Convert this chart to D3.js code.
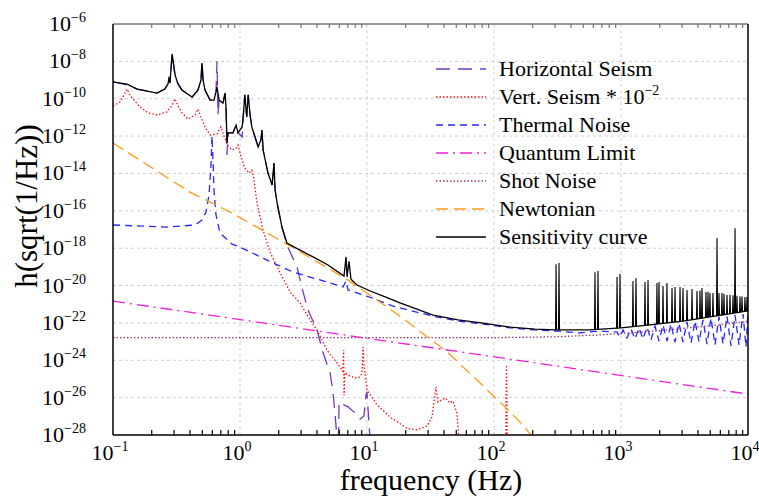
<!DOCTYPE html>
<html>
<head>
<meta charset="utf-8">
<script src="https://cdn.jsdelivr.net/npm/d3@7"></script>
<style>
  body { margin: 0; background: #fff; }
  svg text { font-family: "Liberation Serif", "Times New Roman", Times, serif; }
</style>
</head>
<body>
<script>

// ---- data: [frequency (Hz), h] ----
var hSeism = [[0.1,7.9e-10],[0.129,5.4e-10],[0.155,3.3e-10],[0.222,2.0e-10],[0.256,3.3e-10],[0.271,6.2e-10],
  [0.276,1.6e-9],[0.281,6.9e-10],[0.292,2.5e-8],[0.308,1.86e-9],[0.325,6.2e-10],[0.349,2.95e-10],[0.419,1.23e-10],
  [0.467,2.95e-10],[0.493,1e-9],[0.502,1e-8],[0.512,1e-9],[0.530,2.95e-10],[0.581,8.5e-11],[0.624,8.5e-11],
  [0.647,2.3e-10],[0.659,1e-8],[0.671,1.35e-11],[0.684,8.5e-11],[0.735,5.9e-11],[0.762,2.0e-10],[0.776,3.6e-11],
  [0.790,9.8e-14],[0.805,1.5e-12],[0.881,1.5e-12],[0.931,3.9e-12],[0.965,1.5e-12],[1.04,9e-13],[1.07,2.5e-11],
  [1.09,1.6e-10],[1.13,1.05e-11],[1.16,1.6e-10],[1.20,1.35e-11],[1.24,3.1e-12],[1.39,2.6e-13],[1.46,6.2e-13],
  [1.49,2.1e-12],[1.52,1.8e-13],[1.66,1.05e-14],[1.79,2.4e-15],[1.85,3.6e-14],[1.89,1.3e-15],[1.96,2.6e-16],
  [2.14,1.35e-17],[2.34,1.48e-18],[2.81,9.8e-20],[3.08,7.4e-21],[3.43,4.9e-22],[4.04,4.2e-23],[4.51,2.5e-24],
  [5.12,2.1e-25],[5.40,2.0e-26],[5.70,3.4e-28],[5.90,1e-30],[6.03,5.9e-27],[6.36,4.6e-27],[7.09,3.2e-27],
  [8.05,1.5e-27],[8.81,7.2e-28],[9.47,1.05e-27],[9.82,1.4e-26],[10.0,2.0e-26],[10.2,2.2e-27],[10.57,5.4e-29],[11.0,1e-30]];

var vSeism = [[0.1,4.1e-11],[0.1136,6.6e-11],[0.122,1.58e-10],[0.129,3.3e-10],[0.136,1.58e-10],[0.144,9.8e-11],
  [0.163,3.6e-11],[0.189,1.74e-11],[0.222,1.35e-11],[0.266,1.95e-11],[0.292,4.6e-11],[0.308,9.8e-11],[0.325,4.1e-11],
  [0.349,1.74e-11],[0.390,8.2e-12],[0.443,1.35e-11],[0.467,2.8e-11],[0.493,1.05e-11],[0.530,3.1e-12],[0.581,1.15e-12],
  [0.659,1.3e-12],[0.708,3.1e-12],[0.748,1e-12],[0.805,3.0e-13],[0.865,1.8e-13],[0.931,2.3e-13],[0.965,3.3e-13],
  [1.0,1.23e-13],[1.09,1.95e-14],[1.18,1.05e-14],[1.24,1.5e-14],[1.29,4.5e-15],[1.36,2.6e-16],[1.52,9.3e-18],
  [1.72,6.3e-19],[2.07,4.7e-20],[2.48,4.5e-21],[2.97,1.17e-21],[3.56,1.45e-22],[4.04,4.2e-23],[4.84,3.5e-24],
  [5.81,7.1e-25],[6.36,3.0e-25],[6.45,2.6e-25],[6.55,3.5e-24],[6.6,1.3e-26],[6.7,2.2e-25],[7.09,1.62e-25],
  [8.05,1.12e-25],[8.81,1.26e-25],[9.14,2.3e-25],[9.31,5.1e-24],[9.47,5.6e-25],[10.0,2.6e-26],[12.0,4.1e-27],
  [15.2,9.2e-28],[20.6,2.3e-28],[24.8,1.86e-28],[29.7,3.0e-28],[32.5,9.2e-28],[34.9,3.7e-26],[36.2,5.9e-27],
  [41.1,9.6e-27],[45.0,5.1e-27],[47.5,6.6e-27],[51.1,1.5e-27],[53.0,5.4e-29],[55.0,1e-30],
  [123,1e-30],[125.5,5.6e-25],[128,1e-30]];

var thermal = [[0.1,1.74e-17],[0.266,1.35e-17],[0.443,1.74e-17],[0.502,3.2e-17],[0.540,8.7e-17],[0.570,7.1e-16],
  [0.591,2.8e-14],[0.602,1e-12],[0.613,5.2e-14],[0.624,1.3e-15],[0.647,6.0e-17],[0.696,6.5e-18],[0.865,1.66e-18],
  [1.0,1.15e-18],[1.63,2.3e-19],[2.61,5.3e-20],[4.84,1.54e-20],[6.47,8.3e-21],[6.84,1.74e-20],[7.09,5.8e-21],
  [11.1,2.1e-21],[16.0,7.9e-22],[33.1,2.3e-22],[52.1,1.26e-22],[81.9,8.7e-23],[134,5.4e-23],[210,4.2e-23],
  [302,3.7e-23],[475,2.9e-23],[684,3.7e-23],[931,3.2e-23],[982,1.8e-23],[1038,4.2e-23],[1114,1.55e-23],
  [1199,4.7e-23],[1288,1.38e-23],[1387,5.4e-23],[1490,1.38e-23],[1603,6.0e-23],[1722,1.2e-23],[1853,6.8e-23],
  [1991,1.07e-23],[2141,7.8e-23],[2301,1.07e-23],[2475,8.7e-23],[2661,9.5e-24],[2862,9.8e-23],[3076,9.5e-24],
  [3308,1.12e-22],[3557,8.3e-24],[3825,1.26e-22],[4113,9.5e-24],[4423,1.45e-22],[4755,7.4e-24],[5113,1.82e-22],
  [5498,6.6e-24],[5912,2.1e-22],[6357,7.4e-24],[6835,2.3e-22],[7350,5.8e-24],[7903,2.6e-22],[8497,6.6e-24],
  [9137,3.0e-22],[9645,5.1e-24],[10000,3.4e-22]];

var quantum = [[0.1,1.48e-21],[313,4.9e-25],[10000,1.55e-26]];

var shot = [[0.1,1.62e-23],[100,1.62e-23],[300,1.8e-23],[700,2.3e-23],[1000,2.7e-23],[2000,3.8e-23],
  [5000,7.0e-23],[10000,1.2e-22]];

var newtonian = [[0.1,4.3e-13],[0.404,1.0e-15],[0.834,8.7e-17],[2.34,1.66e-18],[6.71,2.5e-20],[14.4,7.1e-22],
  [19.9,1.45e-22],[42.7,2.8e-24],[73.5,8.7e-26],[118,4.0e-27],[169,3.4e-28],[210,5.4e-29]];

var sensitivity = [[0.1,7.9e-10],[0.129,6.0e-10],[0.155,3.3e-10],[0.222,2.0e-10],[0.256,3.3e-10],[0.271,6.2e-10],
  [0.276,1.3e-9],[0.281,6.9e-10],[0.292,2.5e-8],[0.308,1.86e-9],[0.325,6.2e-10],[0.349,2.95e-10],[0.419,1.23e-10],
  [0.467,2.95e-10],[0.493,1e-9],[0.502,8.1e-9],[0.512,1e-9],[0.530,2.95e-10],[0.581,8.5e-11],[0.624,8.5e-11],
  [0.647,2.3e-10],[0.659,4.3e-10],[0.684,8.5e-11],[0.735,5.9e-11],[0.762,2.0e-10],[0.776,3.6e-11],[0.790,4.3e-13],
  [0.805,1.5e-12],[0.881,1.5e-12],[0.931,3.9e-12],[0.965,1.5e-12],[1.04,3.1e-12],[1.07,2.5e-11],[1.09,1.6e-10],
  [1.13,1.05e-11],[1.16,1.6e-10],[1.20,1.35e-11],[1.24,3.1e-12],[1.39,2.6e-13],[1.46,6.2e-13],[1.49,2.1e-12],
  [1.52,1.8e-13],[1.66,1.05e-14],[1.79,2.4e-15],[1.85,3.6e-14],[1.89,1.3e-15],[1.96,2.6e-16],[2.14,1.35e-17],
  [2.34,1.9e-18],[2.97,7.9e-19],[3.76,3.4e-19],[4.93,1.26e-19],[6.59,3.2e-20],[6.84,3.4e-19],[6.97,2.9e-20],
  [7.21,2.0e-19],[7.48,2.2e-20],[8.34,1.07e-20],[10.6,5.1e-21],[13.9,2.45e-21],[18.2,1.17e-21],[33.1,2.6e-22],
  [52.1,1.44e-22],[81.9,9.8e-23],[134,6.0e-23],[210,4.7e-23],[302,4.2e-23],[570,4.2e-23],[1000,5.4e-23],
  [1690,7.8e-23],[3076,1.26e-22],[5500,2.3e-22],[10000,4.4e-22]];

// violin mode spikes on the sensitivity curve: [frequency, top of spike]
var violinSpikes = [[308,1.4e-19],[325,1.6e-19],[624,5.2e-20],[659,6.0e-20],[931,2.9e-20],[982,4.2e-20],
  [1242,1.74e-20],[1312,2.5e-20],[1545,1.55e-20],[1632,2.0e-20],[1919,1.38e-20],[1991,1.55e-20],
  [2142,9.5e-21],[2300,1.38e-20],[2522,7.4e-21],[2663,8.3e-21],[2917,8.3e-21],[3076,7.4e-21],
  [3311,5.8e-21],[3625,6.5e-21],[3965,5.1e-21],[4188,5.5e-21],[4342,7.4e-21],[4667,4.5e-21],[4842,4.6e-21],
  [5018,4.0e-21],[5300,4.0e-21],[5702,3.5e-18],[5912,4.0e-21],[6237,4.0e-21],[6471,3.6e-21],[6835,3.2e-21],
  [7215,3.2e-21],[7621,3.0e-21],[7907,1.15e-17],[8187,2.8e-21],[8650,2.7e-21],[8974,2.6e-21],[9460,2.45e-21],
  [9820,2.4e-21]];

var legendNames = ["Horizontal Seism", "Vert. Seism * 10", "Thermal Noise", "Quantum Limit",
  "Shot Noise", "Newtonian", "Sensitivity curve"];
var xTickValues = [0.1, 1, 10, 100, 1000, 10000];
var xTickExps = ["\u22121", "0", "1", "2", "3", "4"];
var yTickValues = [1e-28, 1e-26, 1e-24, 1e-22, 1e-20, 1e-18, 1e-16, 1e-14, 1e-12, 1e-10, 1e-8, 1e-6];
var yTickExps = ["\u221228", "\u221226", "\u221224", "\u221222", "\u221220", "\u221218", "\u221216",
  "\u221214", "\u221212", "\u221210", "\u22128", "\u22126"];

// ---- chart ----
var w = 759, h = 499,
    margin = {top: 24, right: 11, bottom: 64, left: 113};

var svg = d3.select("body").append("svg")
  .attr("width", w)
  .attr("height", h)
  .attr("font-family", "'Liberation Serif', 'Times New Roman', Times, serif");

var x_scale = d3.scaleLog()
  .domain([0.1, 1e4])
  .range([margin.left, w - margin.right]);

var y_scale = d3.scaleLog()
  .domain([1e-28, 1e-6])
  .range([h - margin.bottom, margin.top]);

var x0 = margin.left, x1 = w - margin.right, y0 = h - margin.bottom, y1 = margin.top;

// dashed grid
svg.append("g").selectAll("line")
  .data(xTickValues.slice(1, -1))
  .enter().append("line")
  .attr("x1", function(d) { return x_scale(d); })
  .attr("x2", function(d) { return x_scale(d); })
  .attr("y1", y1).attr("y2", y0)
  .attr("stroke", "#cfcfcf").attr("stroke-dasharray", "3,3");

svg.append("g").selectAll("line")
  .data(yTickValues.slice(1, -1))
  .enter().append("line")
  .attr("y1", function(d) { return y_scale(d); })
  .attr("y2", function(d) { return y_scale(d); })
  .attr("x1", x0).attr("x2", x1)
  .attr("stroke", "#cfcfcf").attr("stroke-dasharray", "3,3");

// clip for the curves
svg.append("clipPath").attr("id", "plot")
  .append("rect")
  .attr("x", x0).attr("y", y1)
  .attr("width", x1 - x0).attr("height", y0 - y1);

var line = d3.line()
  .x(function(d) { return x_scale(d[0]); })
  .y(function(d) { return y_scale(d[1]); });

var styles = [
  {data: hSeism, color: "#7038c8", dash: "14,8"},
  {data: vSeism, color: "#ff1010", dash: "1.5,2"},
  {data: thermal, color: "#2626ff", dash: "7,5"},
  {data: quantum, color: "#f020d8", dash: "12,5,2,5"},
  {data: shot, color: "#8e3a7a", dash: "1.5,2"},
  {data: newtonian, color: "#ff9a1a", dash: "12,6"},
  {data: sensitivity, color: "#000000", dash: null}
];

var curves = svg.append("g").attr("clip-path", "url(#plot)");

styles.forEach(function(s) {
  curves.append("path")
    .datum(s.data)
    .attr("d", line)
    .attr("fill", "none")
    .attr("stroke", s.color)
    .attr("stroke-width", 1.3)
    .attr("stroke-dasharray", s.dash);
});

// spikes drawn up from the sensitivity baseline
var baseAt = d3.scaleLog()
  .domain(sensitivity.map(function(d) { return d[0]; }))
  .range(sensitivity.map(function(d) { return Math.log10(d[1]); }));

curves.append("g").selectAll("path")
  .data(violinSpikes)
  .enter().append("path")
  .attr("d", function(d) {
    var px = x_scale(d[0]),
        yb = y_scale(Math.pow(10, baseAt(d[0]))),
        yt = y_scale(d[1]);
    return "M" + (px - 0.5) + "," + yb + "L" + px + "," + yt + "L" + (px + 0.5) + "," + yb;
  })
  .attr("fill", "none")
  .attr("stroke", "#000")
  .attr("stroke-width", 1.1);

// minor ticks (2..9 in each decade)
var minor = [];
xTickValues.slice(0, -1).forEach(function(d) {
  for (var k = 2; k <= 9; k++) minor.push(d * k);
});

svg.append("g")
  .attr("transform", "translate(0," + y0 + ")")
  .call(d3.axisBottom(x_scale).tickValues(minor).tickSize(-5).tickFormat(""))
  .call(function(g) { g.select(".domain").remove(); })
  .selectAll("line").attr("stroke", "#000").attr("stroke-width", 1.2);

svg.append("g")
  .attr("transform", "translate(0," + y1 + ")")
  .call(d3.axisTop(x_scale).tickValues(minor).tickSize(-4).tickFormat(""))
  .call(function(g) { g.select(".domain").remove(); })
  .selectAll("line").attr("stroke", "#777").attr("stroke-width", 1.2);

// frame
svg.append("line").attr("x1", x0).attr("x2", x1).attr("y1", y1).attr("y2", y1)
  .attr("stroke", "#777").attr("stroke-width", 1.5);
svg.append("line").attr("x1", x0).attr("x2", x1).attr("y1", y0).attr("y2", y0)
  .attr("stroke", "#000").attr("stroke-width", 1.5);
svg.append("line").attr("x1", x0).attr("x2", x0).attr("y1", y1).attr("y2", y0)
  .attr("stroke", "#000").attr("stroke-width", 1.5);
svg.append("line").attr("x1", x1).attr("x2", x1).attr("y1", y1).attr("y2", y0)
  .attr("stroke", "#000").attr("stroke-width", 1.5);

// tick labels
var xl = svg.append("g").selectAll("text")
  .data(xTickValues)
  .enter().append("text")
  .attr("x", function(d) { return x_scale(d) - 3; })
  .attr("y", 460)
  .attr("text-anchor", "middle")
  .attr("font-size", 22);
xl.append("tspan").text("10");
xl.append("tspan").attr("dy", -9).attr("font-size", 14)
  .text(function(d, i) { return xTickExps[i]; });

var yl = svg.append("g").selectAll("text")
  .data(yTickValues)
  .enter().append("text")
  .attr("x", 86)
  .attr("y", function(d) { return y_scale(d) + 7; })
  .attr("text-anchor", "end")
  .attr("font-size", 22);
yl.append("tspan").text("10");
yl.append("tspan").attr("dy", -9).attr("font-size", 14)
  .text(function(d, i) { return yTickExps[i]; });

// axis titles
svg.append("text")
  .attr("x", 431).attr("y", 490)
  .attr("text-anchor", "middle")
  .attr("font-size", 30)
  .text("frequency (Hz)");

svg.append("text")
  .attr("transform", "translate(37,206) rotate(-90)")
  .attr("text-anchor", "middle")
  .attr("font-size", 31)
  .text("h(sqrt(1/Hz))");

// legend
var legend = svg.append("g");
legendNames.forEach(function(name, i) {
  var ly = 69 + i * 28;
  legend.append("line")
    .attr("x1", 436).attr("x2", 486)
    .attr("y1", ly).attr("y2", ly)
    .attr("stroke", styles[i].color)
    .attr("stroke-width", 1.3)
    .attr("stroke-dasharray", styles[i].dash);
  var t = legend.append("text")
    .attr("x", 499).attr("y", ly + 7)
    .attr("font-size", 22);
  t.append("tspan").text(name);
  if (i == 1) {
    t.append("tspan").attr("dy", -9).attr("font-size", 14).text("\u22122");
  }
});

</script>
</body>
</html>
